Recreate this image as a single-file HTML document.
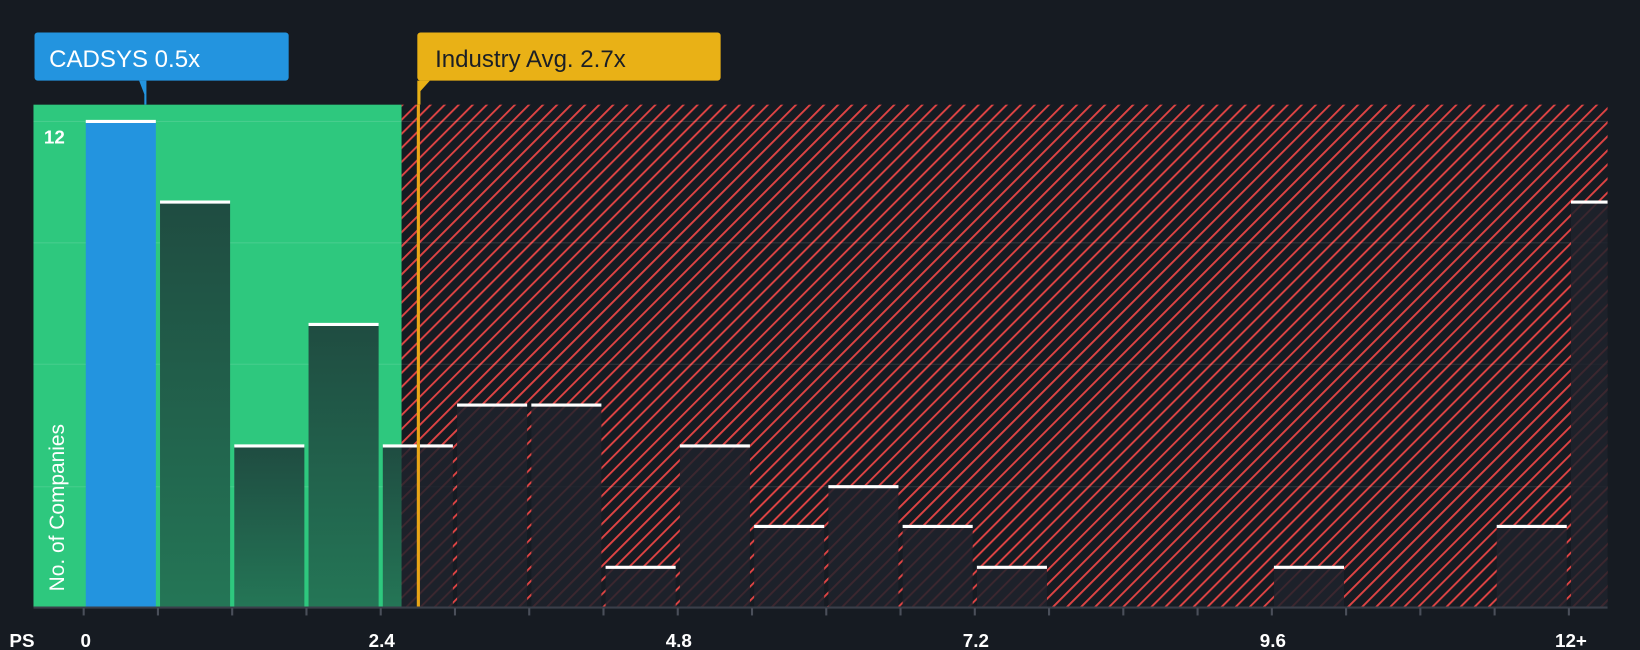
<!DOCTYPE html>
<html><head><meta charset="utf-8"><style>
html,body{margin:0;padding:0;background:#161b22;}
svg{display:block;}
text{font-family:"Liberation Sans",sans-serif;}
</style></head><body>
<svg width="1640" height="650" viewBox="0 0 1568 621" preserveAspectRatio="none">
<defs>
<pattern id="h" patternUnits="userSpaceOnUse" width="9.5" height="9.5" patternTransform="rotate(45)">
<rect width="9.5" height="9.5" fill="#161b22"/>
<rect x="0" y="0" width="1.8" height="9.5" fill="#e04444"/>
</pattern>
<linearGradient id="g" x1="0" y1="0" x2="0" y2="1"><stop offset="0" stop-color="#1f4c41"/><stop offset="1" stop-color="#247656"/></linearGradient>
</defs>
<rect width="1568" height="621" fill="#161b22"/>
<rect x="32" y="100" width="352" height="480" fill="#2ec87e"/>
<rect x="384" y="100" width="1153" height="480" fill="url(#h)"/>
<g stroke="#ffffff" stroke-opacity="0.12" stroke-width="1">
<line x1="32" y1="116" x2="1537" y2="116"/><line x1="32" y1="232" x2="1537" y2="232"/>
<line x1="32" y1="348" x2="1537" y2="348"/><line x1="32" y1="465" x2="1537" y2="465"/>
</g>
<text x="42" y="137" fill="#fff" font-size="18" font-weight="bold">12</text>
<g id="bars">
<rect x="82" y="116" width="67" height="464" fill="#2394df"/>
<rect x="153" y="193" width="67" height="387" fill="url(#g)"/>
<rect x="224" y="426" width="67" height="154" fill="url(#g)"/>
<rect x="295" y="310" width="67" height="270" fill="url(#g)"/>
<rect x="366" y="426" width="18" height="154" fill="url(#g)"/>
<g fill="#1f222c" fill-opacity="0.85">
<rect x="384" y="426" width="49" height="154"/>
<rect x="437" y="387" width="67" height="193"/>
<rect x="508" y="387" width="67" height="193"/>
<rect x="579" y="542" width="67" height="38"/>
<rect x="650" y="426" width="67" height="154"/>
<rect x="721" y="503" width="67" height="77"/>
<rect x="792" y="465" width="67" height="115"/>
<rect x="863" y="503" width="67" height="77"/>
<rect x="934" y="542" width="67" height="38"/>
<rect x="1218" y="542" width="67" height="38"/>
<rect x="1431" y="503" width="67" height="77"/>
<rect x="1502" y="193" width="35" height="387"/>
</g>
</g>
<g stroke="#fff" stroke-width="3">
<line x1="82" y1="116" x2="149" y2="116"/>
<line x1="153" y1="193" x2="220" y2="193"/>
<line x1="224" y1="426" x2="291" y2="426"/>
<line x1="295" y1="310" x2="362" y2="310"/>
<line x1="366" y1="426" x2="433" y2="426"/>
<line x1="437" y1="387" x2="504" y2="387"/>
<line x1="508" y1="387" x2="575" y2="387"/>
<line x1="579" y1="542" x2="646" y2="542"/>
<line x1="650" y1="426" x2="717" y2="426"/>
<line x1="721" y1="503" x2="788" y2="503"/>
<line x1="792" y1="465" x2="859" y2="465"/>
<line x1="863" y1="503" x2="930" y2="503"/>
<line x1="934" y1="542" x2="1001" y2="542"/>
<line x1="1218" y1="542" x2="1285" y2="542"/>
<line x1="1431" y1="503" x2="1498" y2="503"/>
<line x1="1502" y1="193" x2="1537" y2="193"/>
</g>
<rect x="398.5" y="100" width="3" height="480" fill="#e9a516"/>
<line x1="32" y1="580.5" x2="1537" y2="580.5" stroke="#3a3f4a" stroke-width="2"/>
<g stroke="#4a4f5a" stroke-width="2">
<line x1="80" y1="581" x2="80" y2="588"/><line x1="151" y1="581" x2="151" y2="588"/><line x1="222" y1="581" x2="222" y2="588"/><line x1="293" y1="581" x2="293" y2="588"/><line x1="364" y1="581" x2="364" y2="588"/><line x1="435" y1="581" x2="435" y2="588"/><line x1="506" y1="581" x2="506" y2="588"/><line x1="577" y1="581" x2="577" y2="588"/><line x1="648" y1="581" x2="648" y2="588"/><line x1="719" y1="581" x2="719" y2="588"/><line x1="790" y1="581" x2="790" y2="588"/><line x1="861" y1="581" x2="861" y2="588"/><line x1="932" y1="581" x2="932" y2="588"/><line x1="1003" y1="581" x2="1003" y2="588"/><line x1="1074" y1="581" x2="1074" y2="588"/><line x1="1145" y1="581" x2="1145" y2="588"/><line x1="1216" y1="581" x2="1216" y2="588"/><line x1="1287" y1="581" x2="1287" y2="588"/><line x1="1358" y1="581" x2="1358" y2="588"/><line x1="1429" y1="581" x2="1429" y2="588"/><line x1="1500" y1="581" x2="1500" y2="588"/>
</g>
<g fill="#fff" font-size="18" font-weight="bold" text-anchor="middle">
<text x="21" y="618">PS</text>
<text x="82" y="618">0</text>
<text x="365" y="618">2.4</text>
<text x="649" y="618">4.8</text>
<text x="933" y="618">7.2</text>
<text x="1217" y="618">9.6</text>
<text x="1502" y="618">12+</text>
</g>
<text transform="translate(61,565) rotate(-90)" fill="#fff" font-size="20">No. of Companies</text>
<rect x="33" y="31" width="243" height="46" rx="3" fill="#2394df"/>
<path d="M133 77 L138 90 L138 100 L140 100 L140 77 Z" fill="#2394df"/>
<text x="47" y="64" fill="#fff" font-size="23">CADSYS 0.5x</text>
<rect x="399" y="31" width="290" height="46" rx="3" fill="#e9b116"/>
<path d="M399 77 L399 100 L402 100 L402 87 L411 77 Z" fill="#e9b116"/>
<text x="416" y="64" fill="#1b1f26" font-size="23">Industry Avg. 2.7x</text>
</svg>
</body></html>
